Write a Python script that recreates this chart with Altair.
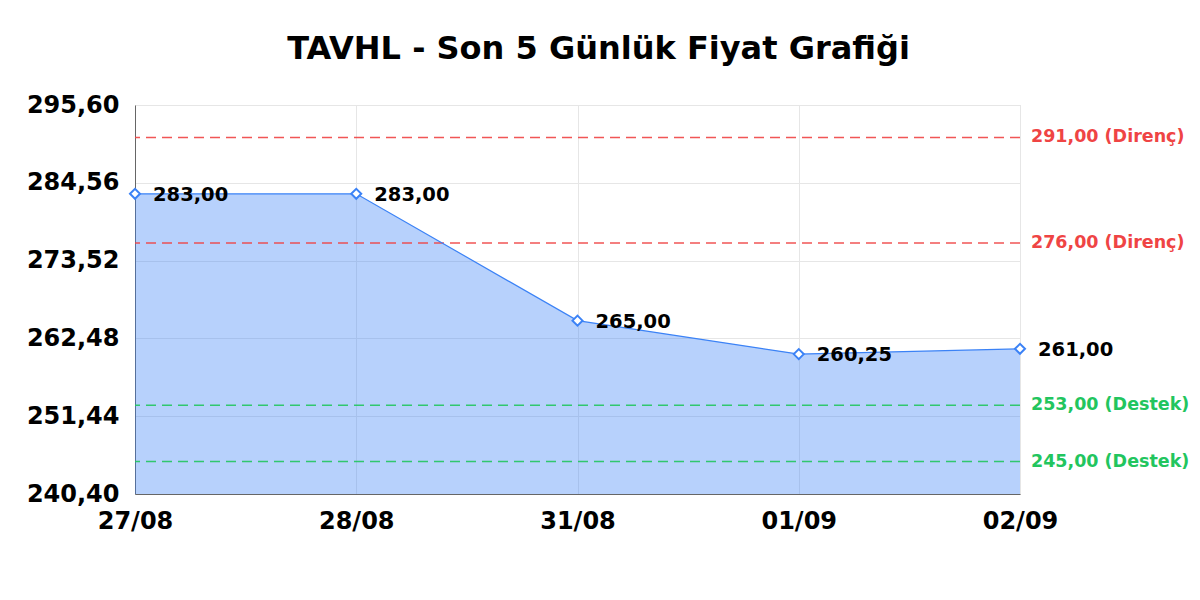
import altair as alt
import pandas as pd

# ---- data ----
dates = ["27/08", "28/08", "31/08", "01/09", "02/09"]
prices = [283.00, 283.00, 265.00, 260.25, 261.00]
price_labels = ["283,00", "283,00", "265,00", "260,25", "261,00"]

level_values = [291.0, 276.0, 253.0, 245.0]
level_labels = ["291,00 (Direnç)", "276,00 (Direnç)", "253,00 (Destek)", "245,00 (Destek)"]
level_kinds = ["Direnç", "Direnç", "Destek", "Destek"]

y_ticks = [240.40, 251.44, 262.48, 273.52, 284.56, 295.60]

title_text = "TAVHL - Son 5 Günlük Fiyat Grafiği"

BLUE = "#3b82f6"
RED = "#ef4444"
GREEN = "#22c55e"
FONT = "DejaVu Sans"

price_df = pd.DataFrame({"date": dates, "price": prices, "label": price_labels})
level_df = pd.DataFrame({"level": level_values, "label": level_labels, "kind": level_kinds})

x_enc = alt.X(
    "date:O",
    sort=dates,
    scale=alt.Scale(padding=0),
    axis=alt.Axis(
        title=None, labelAngle=0, labelFontSize=24, labelFontWeight="bold",
        labelColor="#000000", labelPadding=15, ticks=False,
        domainColor="#666666", gridColor="#e6e6e6", grid=True,
        labelFont=FONT,
    ),
)
y_enc = alt.Y(
    "price:Q",
    scale=alt.Scale(domain=[y_ticks[0], y_ticks[-1]], zero=False, nice=False),
    axis=alt.Axis(
        title=None, values=y_ticks, ticks=False,
        labelExpr="replace(format(datum.value, '.2f'), '.', ',')",
        labelFontSize=24, labelFontWeight="bold", labelColor="#000000",
        labelPadding=16, domainColor="#666666", gridColor="#e6e6e6",
        labelFont=FONT,
    ),
)

base = alt.Chart(price_df)

area = base.mark_area(color=BLUE, opacity=0.37).encode(
    x=x_enc, y=y_enc, y2=alt.Y2Datum(y_ticks[0])
)
line = base.mark_line(color=BLUE, strokeWidth=1.2).encode(x=x_enc, y=y_enc)
points = base.mark_point(
    shape="diamond", filled=True, fill="white", stroke=BLUE,
    strokeWidth=2, size=100, opacity=1,
).encode(x=x_enc, y=y_enc)
labels = base.mark_text(
    align="left", baseline="middle", dx=18, dy=1, fontSize=19.5,
    fontWeight="bold", color="#000000", font=FONT,
).encode(x=x_enc, y=y_enc, text="label:N")

color_scale = alt.Scale(domain=["Direnç", "Destek"], range=[RED, GREEN])

rules = alt.Chart(level_df).mark_rule(strokeDash=[10, 6], strokeWidth=1.5, opacity=0.9).encode(
    y=alt.Y("level:Q"),
    color=alt.Color("kind:N", scale=color_scale, legend=None),
)
level_text = alt.Chart(level_df).mark_text(
    align="left", baseline="middle", dx=11, fontSize=17.5, fontWeight="bold", font=FONT,
).encode(
    x=alt.XDatum(dates[-1], type="ordinal"),
    y=alt.Y("level:Q"),
    text="label:N",
    color=alt.Color("kind:N", scale=color_scale, legend=None),
)

chart = alt.layer(area, rules, line, points, labels, level_text).properties(
    width=885,
    height=389,
    autosize=alt.AutoSizeParams(type="none"),
    padding={"left": 127, "top": 97, "right": 172, "bottom": 98},
    title=alt.TitleParams(
        text=title_text, fontSize=32, fontWeight="bold", font=FONT,
        color="#000000", anchor="middle", dx=21, offset=27,
    ),
).configure_view(stroke=None).configure(background="white")

chart.save("out.html", embed_options={"renderer": "svg", "actions": False})
